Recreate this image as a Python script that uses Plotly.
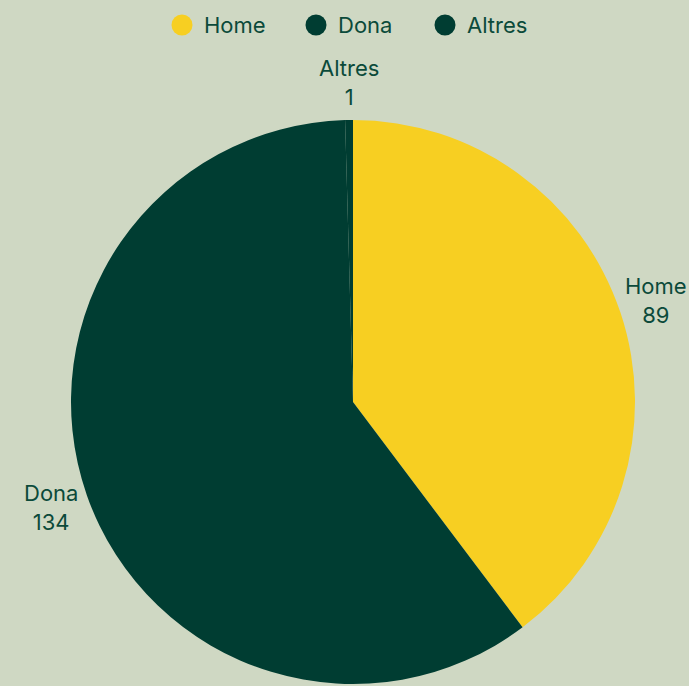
import math
import plotly.graph_objects as go

labels = ["Home", "Dona", "Altres"]
values = [89, 134, 1]
colors = ["#F7CF22", "#003D32", "#003D32"]

BG = "#CFD8C3"
TXT = "#0B4A3A"
FONT = "Inter, Roboto, sans-serif"
FS = 22

W, H = 689, 686
ML, MR, MT, MB = 17, 0, 120, 2
PW, PH = W - ML - MR, H - MT - MB

fig = go.Figure()
fig.add_trace(go.Pie(
    labels=labels,
    values=values,
    sort=False,
    direction="clockwise",
    rotation=0,
    automargin=False,
    marker=dict(colors=colors, line=dict(color=BG, width=0)),
    textinfo="none",
    hoverinfo="label+value+percent",
    showlegend=False,
))

shapes = []
annotations = []

# outside slice labels, placed along each slice's mid-angle (computed from the data)
cx_px = ML + PW / 2
cy_px = MT + PH / 2
radius = min(PW, PH) / 2
label_r = radius + 38
total = sum(values)
cum = 0
for lab, val in zip(labels, values):
    theta = 2 * math.pi * (cum + val / 2) / total
    cum += val
    px = cx_px + label_r * math.sin(theta)
    py = cy_px - label_r * math.cos(theta)
    annotations.append(dict(xref="paper", yref="paper",
                            x=(px - ML) / PW, y=(H - py - MB) / PH,
                            text=f"{lab}<br>{val}", showarrow=False,
                            xanchor="center", yanchor="middle", align="center",
                            font=dict(family=FONT, size=FS, color=TXT)))

# custom legend with circle markers (plotly legend symbols cannot be this large)
legend_x = [182, 316, 445]
for lab, col, lx in zip(labels, colors, legend_x):
    rr = 10.5
    ly = 25
    shapes.append(dict(type="circle", xref="paper", yref="paper",
                       x0=(lx - rr - ML) / PW, x1=(lx + rr - ML) / PW,
                       y0=(H - ly - rr - MB) / PH, y1=(H - ly + rr - MB) / PH,
                       fillcolor=col, line=dict(width=0)))
    annotations.append(dict(xref="paper", yref="paper", x=(lx + 20 - ML) / PW,
                            y=(H - ly - MB) / PH, text=lab, showarrow=False,
                            xanchor="left", yanchor="middle",
                            font=dict(family=FONT, size=FS, color=TXT)))

fig.update_layout(
    width=W, height=H,
    paper_bgcolor=BG, plot_bgcolor=BG,
    margin=dict(l=ML, r=MR, t=MT, b=MB, autoexpand=False),
    shapes=shapes,
    annotations=annotations,
    font=dict(family=FONT, color=TXT),
)

fig.write_html("out.html", config={"displayModeBar": False})

# remove default page margin so the figure fills the window
with open("out.html", "r", encoding="utf-8") as f:
    html = f.read()
html = html.replace("<head>", "<head><style>html,body{margin:0;padding:0;overflow:hidden;}</style>", 1)
with open("out.html", "w", encoding="utf-8") as f:
    f.write(html)
